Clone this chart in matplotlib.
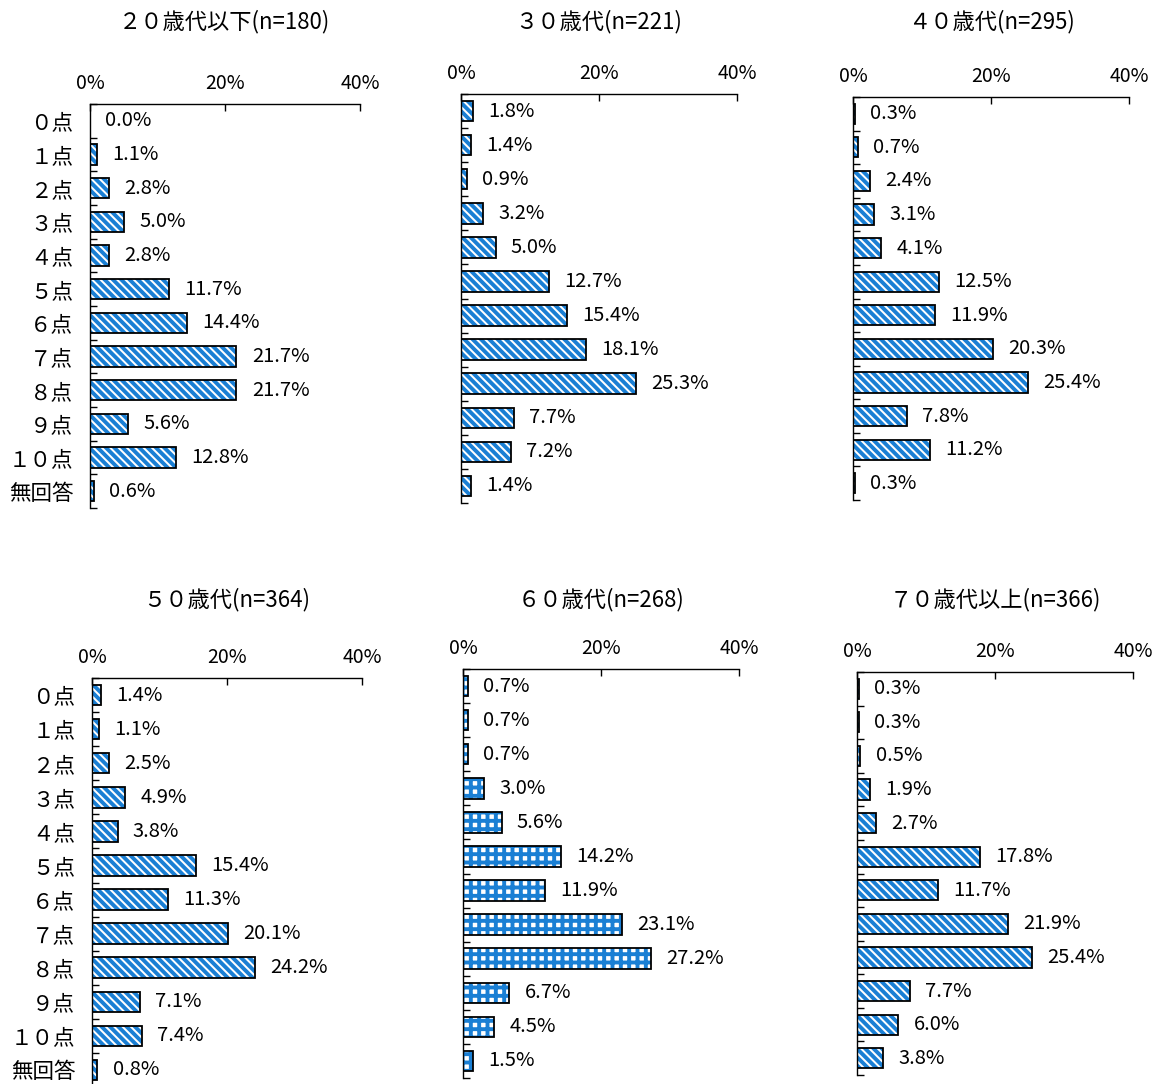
import matplotlib
matplotlib.use("Agg")
import matplotlib.pyplot as plt
from matplotlib.ticker import FixedLocator

plt.rcParams['font.family'] = ['Noto Sans CJK JP', 'DejaVu Sans']
plt.rcParams['hatch.linewidth'] = 2.8

categories = ["０点", "１点", "２点", "３点", "４点", "５点", "６点",
              "７点", "８点", "９点", "１０点", "無回答"]

titles = ["２０歳代以下(n=180)", "３０歳代(n=221)", "４０歳代(n=295)",
          "５０歳代(n=364)", "６０歳代(n=268)", "７０歳代以上(n=366)"]

age20 = [0.0, 1.1, 2.8, 5.0, 2.8, 11.7, 14.4, 21.7, 21.7, 5.6, 12.8, 0.6]
age30 = [1.8, 1.4, 0.9, 3.2, 5.0, 12.7, 15.4, 18.1, 25.3, 7.7, 7.2, 1.4]
age40 = [0.3, 0.7, 2.4, 3.1, 4.1, 12.5, 11.9, 20.3, 25.4, 7.8, 11.2, 0.3]
age50 = [1.4, 1.1, 2.5, 4.9, 3.8, 15.4, 11.3, 20.1, 24.2, 7.1, 7.4, 0.8]
age60 = [0.7, 0.7, 0.7, 3.0, 5.6, 14.2, 11.9, 23.1, 27.2, 6.7, 4.5, 1.5]
age70 = [0.3, 0.3, 0.5, 1.9, 2.7, 17.8, 11.7, 21.9, 25.4, 7.7, 6.0, 3.8]

series = [age20, age30, age40, age50, age60, age70]
hatches = ["\\\\\\\\", "\\\\\\\\", "\\\\\\\\", "\\\\\\\\", "++", "\\\\\\\\"]

W, H = 1159, 1084
# axes boxes in pixels: left, right, top, bottom
boxes = [(90, 360, 104, 508), (461, 737, 94, 503), (853, 1129, 97, 500),
         (92, 362, 678, 1087), (463, 739, 669, 1078), (857, 1133, 672, 1075)]
title_y = [22, 22, 22, 600, 600, 600]

blue = "#1a7fd4"

fig = plt.figure(figsize=(W / 100, H / 100), dpi=100)

for i, (vals, box) in enumerate(zip(series, boxes)):
    l, r, t, b = box
    ax = fig.add_axes([l / W, 1 - b / H, (r - l) / W, (b - t) / H])
    y = list(range(len(categories)))
    ax.barh(y, vals, height=0.6, color="white", edgecolor=blue,
            hatch=hatches[i], linewidth=0)
    ax.barh(y, vals, height=0.6, fill=False, edgecolor="black", linewidth=1.3)
    for yy, v in zip(y, vals):
        ax.annotate(f"{v:.1f}%", (v, yy), xytext=(11, 0),
                    textcoords="offset points", va="center", ha="left",
                    fontsize=14.5)
    ax.set_xlim(0, 40)
    ax.set_ylim(len(categories) - 0.5, -0.5)
    ax.xaxis.tick_top()
    ax.set_xticks([0, 20, 40])
    ax.set_xticklabels(["0%", "20%", "40%"], fontsize=14)
    ax.tick_params(axis="x", direction="in", length=5, width=1, pad=7)
    ax.set_yticks(y)
    if i % 3 == 0:
        ax.set_yticklabels(categories, fontsize=15.5)
    else:
        ax.set_yticklabels([])
    ax.tick_params(axis="y", which="major", length=0, pad=12)
    ax.yaxis.set_minor_locator(FixedLocator([k - 0.5 for k in range(len(categories) + 1)]))
    ax.tick_params(axis="y", which="minor", direction="in", length=5, width=1)
    ax.spines["right"].set_visible(False)
    ax.spines["bottom"].set_visible(False)
    ax.spines["top"].set_linewidth(1)
    ax.spines["left"].set_linewidth(1)
    fig.text((l + r) / 2 / W, 1 - title_y[i] / H, titles[i], ha="center",
             va="center", fontsize=16)

fig.savefig("out.png", dpi=100)
